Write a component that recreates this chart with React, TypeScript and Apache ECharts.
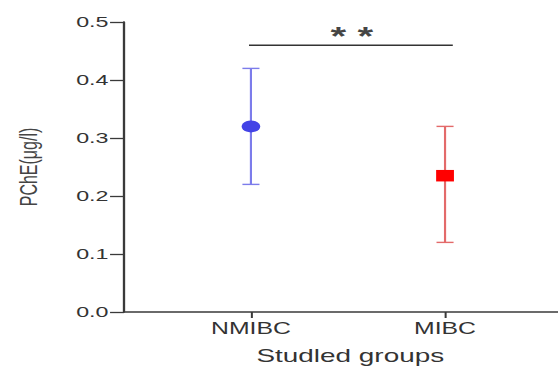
import React, { useEffect, useRef } from "react";
import * as echarts from "echarts";

const groups = ["NMIBC", "MIBC"];
const groupX = [1, 2];
const means = [0.32, 0.235];
const upper = [0.42, 0.32];
const lower = [0.22, 0.12];
const markerSymbols = ["circle", "rect"];
const markerColors = ["#4343e6", "#ff0000"];
const errColors = ["#7c7ceb", "#e36a6a"];
const yTicks = [0, 0.1, 0.2, 0.3, 0.4, 0.5];
const sigSpan = [0.99, 2.04];
const sigLevel = 0.46;
const sigLabel = "* *";
const sigLabelPos = [1.52, 0.476];

const S = 1.55; // horizontal stretch of the reference picture
const W = 558 / S;
const H = 367;

export default function App() {
  const ref = useRef<HTMLDivElement>(null);
  useEffect(() => {
    document.body.style.margin = "0";
    const chart = echarts.init(ref.current!, null, { renderer: "svg" });
    const axisColor = "#3a3a3a";
    chart.setOption({
      animation: false,
      backgroundColor: "#ffffff",
      grid: { left: 80, right: 0, top: 22, bottom: 55, outerBoundsMode: "none" },
      xAxis: {
        type: "value",
        min: 0.346,
        max: 2.582,
        name: "Studled groups",
        nameLocation: "middle",
        nameGap: 35,
        nameTextStyle: {
          fontFamily: "Liberation Sans, Arial, sans-serif",
          fontSize: 18,
          color: "#333",
          padding: [0, 0, 0, 12],
        },
        axisLine: { show: true, lineStyle: { color: axisColor, width: 1.5 } },
        axisTick: { show: true, customValues: groupX, length: 6, lineStyle: { color: axisColor, width: 1.3 } },
        axisLabel: {
          customValues: groupX,
          formatter: (v: number) => groups[Math.round(v) - 1] ?? "",
          margin: 8,
          fontFamily: "Liberation Sans, Arial, sans-serif",
          fontSize: 16,
          color: "#333",
        },
        splitLine: { show: false },
      },
      yAxis: {
        type: "value",
        min: 0,
        max: 0.5,
        interval: 0.1,
        name: "PChE(μg/l)",
        nameLocation: "middle",
        nameGap: 54,
        nameTextStyle: {
          fontFamily: "Liberation Sans, Arial, sans-serif",
          fontSize: 16,
          color: "#444",
        },
        axisLine: { show: true, lineStyle: { color: axisColor, width: 1.5 } },
        axisTick: { show: true, length: 9, customValues: yTicks, lineStyle: { color: axisColor, width: 1.3 } },
        axisLabel: {
          formatter: (v: number) => v.toFixed(1),
          margin: 10,
          fontFamily: "Liberation Sans, Arial, sans-serif",
          fontSize: 15,
          color: "#333",
        },
        splitLine: { show: false },
      },
      series: [
        {
          type: "custom",
          z: 2,
          data: groupX.map((x, i) => [x, lower[i], upper[i]]),
          renderItem: (params: any, api: any) => {
            const x = api.value(0);
            const pLo = api.coord([x, api.value(1)]);
            const pHi = api.coord([x, api.value(2)]);
            const hw = 5.5;
            const style = { stroke: errColors[params.dataIndex], lineWidth: 1.4 };
            return {
              type: "group",
              children: [
                { type: "line", shape: { x1: pHi[0], y1: pHi[1], x2: pLo[0], y2: pLo[1] }, style },
                { type: "line", shape: { x1: pHi[0] - hw, y1: pHi[1], x2: pHi[0] + hw, y2: pHi[1] }, style },
                { type: "line", shape: { x1: pLo[0] - hw, y1: pLo[1], x2: pLo[0] + hw, y2: pLo[1] }, style },
              ],
            };
          },
        },
        {
          type: "scatter",
          z: 3,
          data: groupX.map((x, i) => ({
            value: [x, means[i]],
            symbol: markerSymbols[i],
            symbolSize: i === 0 ? 12 : 11.5,
            itemStyle: { color: markerColors[i], opacity: 1 },
          })),
        },
        {
          type: "line",
          z: 2,
          symbol: "none",
          lineStyle: { color: "#333", width: 1.4 },
          data: sigSpan.map((x) => [x, sigLevel]),
        },
        {
          type: "scatter",
          z: 4,
          symbolSize: 0,
          data: [sigLabelPos],
          label: {
            show: true,
            position: "inside",
            formatter: sigLabel,
            fontFamily: "Liberation Sans, Arial, sans-serif",
            fontSize: 26,
            fontWeight: "bold",
            color: "#111",
          },
        },
      ],
    });
    return () => chart.dispose();
  }, []);
  return (
    <div style={{ position: "absolute", left: 0, top: 0, width: 558, height: H, overflow: "hidden", background: "#fff" }}>
      <div style={{ transform: `scaleX(${S})`, transformOrigin: "0 0", width: W, height: H }}>
        <div ref={ref} style={{ width: W, height: H }} />
      </div>
    </div>
  );
}
